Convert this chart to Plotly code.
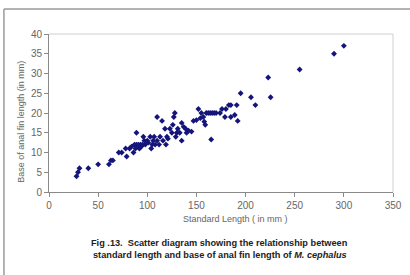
import plotly.graph_objects as go

standard_length = [28, 29.5, 31, 40, 50, 61, 63, 65, 71, 74, 79, 78, 82, 86, 84, 87, 88, 89, 90, 91,
                   92, 93, 94, 95, 89, 96, 97, 98, 100, 101, 103, 104, 105, 106, 107, 108, 110, 110, 112, 113,
                   115, 116, 118, 119, 120, 121, 123, 125, 126, 127, 128, 129, 130, 131, 133, 135, 135, 137, 139, 140,
                   142, 145, 147, 150, 152, 154, 155, 157, 158, 159, 160, 162, 164, 165, 166, 168, 170, 174, 176, 179,
                   180, 183, 185, 185, 189, 191, 192, 195, 205.5, 210, 223, 225.5, 255, 290, 300]
anal_fin_base = [4, 5, 6, 6, 7, 7, 8, 8, 10, 10, 9, 11, 11, 10, 11.5, 12, 11, 12, 11.5, 12,
                 11, 12, 11.5, 12, 15, 14, 13, 12, 13, 12.5, 14, 11, 12, 13, 14, 12, 13, 19, 12, 14,
                 18, 13, 16, 12, 14, 13.5, 16, 15, 17, 19, 20, 14, 15, 16, 15, 13, 17.5, 16.5, 16, 15,
                 15.5, 15.3, 18, 18.2, 21, 18.7, 20, 19, 17.8, 17, 20, 20, 20, 13.3, 20, 20, 20, 20, 21, 19,
                 21, 22, 22, 19, 19.5, 22, 18, 25, 24, 22, 29, 24, 31, 35, 37]

x_ticks = [0, 50, 100, 150, 200, 250, 300, 350]
y_ticks = [0, 5, 10, 15, 20, 25, 30, 35, 40]

FONT = "Liberation Sans Narrow, Liberation Sans, Arial, sans-serif"

fig = go.Figure()
fig.add_trace(go.Scatter(
    x=standard_length, y=anal_fin_base, mode="markers",
    marker=dict(symbol="diamond", size=4.5, color="#14147a"),
    showlegend=False, hoverinfo="skip", cliponaxis=False))

axis_common = dict(showgrid=False, zeroline=False, showline=True, linecolor="#8a8a8a",
                   linewidth=1, ticks="outside", ticklen=4, tickcolor="#8a8a8a",
                   automargin=False,
                   tickfont=dict(family=FONT, size=10, color="#666666"))

fig.update_xaxes(range=[0, 350], tickvals=x_ticks, **axis_common)
fig.update_yaxes(range=[0, 40], tickvals=y_ticks, **axis_common)

# plot frame (light gray top/right) and outer picture border
fig.add_shape(type="line", xref="paper", yref="paper", x0=0, x1=1, y0=1, y1=1,
              line=dict(color="#cfcfcf", width=1))
fig.add_shape(type="line", xref="paper", yref="paper", x0=1, x1=1, y0=0, y1=1,
              line=dict(color="#cfcfcf", width=1))
fig.add_shape(type="line", xref="paper", yref="paper", x0=-0.131, x1=1.06, y0=1.158, y1=1.158,
              line=dict(color="#9a9a9a", width=1.5))
fig.add_shape(type="line", xref="paper", yref="paper", x0=-0.131, x1=-0.131, y0=1.158, y1=-0.53,
              line=dict(color="#9a9a9a", width=1.5))

annotations = [
    dict(text="Standard Length ( in mm )", x=0.5436, y=-0.171, xref="paper", yref="paper",
         showarrow=False, font=dict(family=FONT, size=9, color="#666666"),
         xanchor="center", yanchor="middle"),
    dict(text="Base of anal fin length (in mm)", x=-0.082, y=0.443, xref="paper", yref="paper",
         showarrow=False, textangle=-90, font=dict(family=FONT, size=9, color="#666666"),
         xanchor="center", yanchor="middle"),
    dict(text="<b>Fig .13.  Scatter diagram showing the relationship between</b>",
         x=0.497, y=-0.32, xref="paper", yref="paper", showarrow=False,
         font=dict(family=FONT, size=9.2, color="#222222"), xanchor="center", yanchor="middle"),
    dict(text="<b>standard length and base of anal fin length of <i>M. cephalus</i></b>",
         x=0.497, y=-0.40, xref="paper", yref="paper", showarrow=False,
         font=dict(family=FONT, size=9.2, color="#222222"), xanchor="center", yanchor="middle"),
]

fig.update_layout(width=410, height=275, margin=dict(l=49, r=17, t=34, b=83),
                  paper_bgcolor="white", plot_bgcolor="white", annotations=annotations)

fig.write_html("out.html", config={"displayModeBar": False},
               post_script="document.body.style.margin='0';document.body.style.overflow='hidden';")
